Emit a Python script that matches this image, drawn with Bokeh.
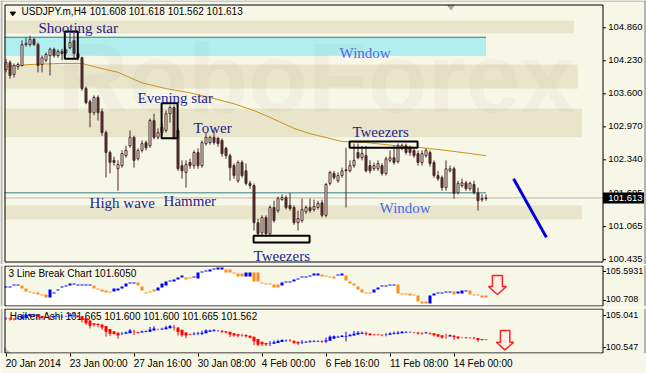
from bokeh.plotting import figure
from bokeh.layouts import column
from bokeh.models import Range1d, FixedTicker, LinearAxis
from bokeh.core.properties import value
from bokeh.embed import file_html
from bokeh.resources import INLINE

# ---------------- data (USDJPY.m, H4) ----------------
O = [104.06,104.20,103.97,104.12,104.14,104.54,104.54,104.64,104.54,104.16,
     104.24,104.33,104.45,104.33,104.41,104.39,104.48,104.62,104.37,104.29,
     103.70,103.45,103.24,103.53,103.26,102.86,102.48,102.33,102.17,102.23,
     102.42,102.61,102.77,102.36,102.52,102.67,102.61,103.09,102.77,102.86,
     102.90,103.22,103.34,102.90,102.23,102.10,102.29,102.23,102.48,102.23,
     102.65,102.67,102.77,102.75,102.71,102.56,102.42,102.23,101.94,102.29,
     102.13,101.89,101.85,101.14,100.95,101.24,100.93,101.43,101.37,101.58,
     101.62,101.47,101.43,101.14,101.18,101.35,101.43,101.39,101.43,101.52,
     101.28,101.89,102.08,101.94,102.04,102.15,102.13,102.23,102.48,102.38,
     102.42,102.23,102.17,102.17,102.23,102.08,102.33,102.38,102.31,102.56,
     102.61,102.57,102.52,102.46,102.29,102.42,102.48,102.29,102.04,102.00,
     101.81,102.13,102.17,101.71,101.85,101.90,101.79,101.87,101.71,101.58,
     101.60]
H = [104.27,104.24,104.18,104.20,104.62,104.67,104.71,104.67,104.58,104.33,
     104.39,104.48,104.48,104.45,104.46,104.46,104.77,104.77,104.39,104.31,
     103.74,103.49,103.57,103.57,103.32,102.90,102.52,102.40,102.33,102.52,
     102.61,102.90,102.80,102.56,102.71,102.71,103.13,103.22,102.94,103.05,
     103.28,103.38,103.38,102.94,102.33,102.33,102.36,102.52,102.56,102.71,
     102.86,102.80,102.90,102.78,102.75,102.59,102.46,102.27,102.33,102.33,
     102.27,101.94,101.89,101.22,101.28,101.28,101.47,101.56,101.64,101.68,
     101.66,101.71,101.47,101.37,101.60,101.47,101.60,101.58,101.56,101.58,
     101.90,102.13,102.13,102.10,102.19,102.57,102.33,102.65,102.65,102.61,
     102.61,102.33,102.29,102.33,102.27,102.40,102.52,102.61,102.65,102.65,
     102.65,102.61,102.56,102.52,102.52,102.56,102.52,102.33,102.13,102.04,
     102.33,102.23,102.21,101.94,101.98,101.94,101.92,101.94,101.81,101.68,
     101.68]
L = [104.01,103.89,103.91,104.06,104.12,104.50,104.50,104.52,104.01,104.01,
     104.20,103.95,104.29,104.29,104.24,104.35,104.45,104.27,104.24,103.66,
     103.40,102.96,103.19,103.09,102.80,102.00,102.08,102.23,101.75,102.19,
     102.38,102.57,102.19,102.33,102.48,102.52,102.57,102.73,102.73,102.82,
     102.86,103.05,102.73,102.13,101.98,101.81,102.17,102.17,102.17,102.19,
     102.61,102.63,102.63,102.59,102.40,102.36,101.94,101.98,101.90,102.00,
     101.85,101.79,100.99,100.89,100.89,100.87,100.89,101.14,101.33,101.56,
     101.39,101.37,101.10,100.99,101.14,101.31,101.33,101.35,101.39,101.24,
     101.24,101.85,101.96,101.90,102.00,101.43,102.10,102.19,102.35,102.33,
     102.10,102.08,102.13,102.13,102.04,102.04,102.29,102.25,102.27,102.52,
     102.44,102.42,102.38,102.23,102.23,102.38,102.21,102.00,101.94,101.75,
     101.75,102.10,101.60,101.68,101.81,101.75,101.75,101.68,101.37,101.54,
     101.56]
C = [104.20,103.95,104.14,104.16,104.54,104.56,104.64,104.54,104.14,104.29,
     104.35,104.45,104.33,104.41,104.37,104.43,104.58,104.37,104.29,103.70,
     103.43,103.24,103.53,103.24,102.86,102.48,102.29,102.29,102.25,102.46,
     102.52,102.77,102.33,102.52,102.65,102.57,103.09,102.77,102.86,102.96,
     103.22,103.34,102.77,102.17,102.13,102.25,102.23,102.48,102.23,102.67,
     102.77,102.77,102.67,102.65,102.46,102.42,102.19,102.04,102.29,102.04,
     101.89,101.85,101.14,100.93,101.24,100.93,101.43,101.18,101.60,101.62,
     101.43,101.41,101.14,101.22,101.39,101.43,101.37,101.45,101.51,101.28,
     101.87,102.10,102.00,102.04,102.13,102.13,102.23,102.33,102.38,102.46,
     102.13,102.13,102.23,102.27,102.08,102.36,102.38,102.29,102.61,102.61,
     102.48,102.48,102.42,102.29,102.46,102.52,102.27,102.04,101.98,101.81,
     102.17,102.17,101.70,101.89,101.90,101.79,101.89,101.71,101.56,101.60,
     101.613]

# moving average (sampled at bar indices)
ma_bar = [0, 6, 14, 19, 23, 28, 34, 40, 46, 52, 57, 62, 66, 72, 76, 84, 90, 100, 104, 110, 120]
ma_val = [104.12, 104.16, 104.18, 104.18, 104.10, 104.01, 103.81, 103.70, 103.62, 103.51, 103.41,
          103.28, 103.15, 102.94, 102.84, 102.69, 102.67, 102.59, 102.57, 102.52, 102.42]

# 3 Line Break chart bricks (top, bottom, direction 1=up/blue, 0=down/orange)
lb_hi = [103.07,103.07,103.40,103.40,103.23,102.73,102.22,102.05,102.05,101.72,
         101.72,102.56,102.05,102.56,103.07,103.23,103.57,103.57,103.40,103.40,
         103.40,103.40,103.23,102.73,102.56,102.39,102.22,102.73,102.73,103.07,
         103.57,103.74,103.74,103.74,103.07,102.05,102.22,102.56,102.90,103.57,
         103.91,104.08,104.25,104.58,104.92,104.58,104.58,104.75,105.42,105.59,
         105.76,105.93,106.10,106.27,106.27,105.93,105.93,105.42,105.26,105.26,
         105.42,105.42,105.42,105.42,103.74,103.57,103.57,103.40,103.40,103.74,
         103.91,103.91,104.25,104.41,104.75,104.75,104.92,105.26,105.26,105.09,
         104.92,104.75,104.75,105.09,105.26,104.92,103.91,103.57,103.07,102.56,
         102.05,102.05,102.56,102.90,103.23,103.23,103.40,103.40,103.40,101.89,
         101.89,101.89,101.72,101.55,100.54,100.54,101.55,101.89,102.05,102.05,
         102.22,102.22,102.22,102.22,102.39,102.39,102.39,101.72,101.72,101.55,
         101.55]
lb_lo = [102.90,102.90,103.23,103.23,102.73,102.22,102.05,101.89,101.72,101.55,
         101.21,101.21,101.89,102.39,102.90,103.07,103.23,103.40,103.23,103.23,
         103.23,103.23,102.73,102.56,102.22,102.05,102.05,102.22,102.39,102.73,
         103.07,103.57,103.57,103.23,102.39,101.89,102.05,102.22,102.39,102.90,
         103.23,103.91,103.91,104.25,104.58,104.25,104.41,104.58,104.41,105.42,
         105.59,105.59,105.93,105.93,105.93,105.42,105.42,105.26,104.75,104.75,
         104.75,104.75,103.91,103.91,103.57,103.40,103.40,102.90,102.90,103.23,
         103.74,103.74,103.91,104.25,104.58,104.58,104.75,104.92,104.92,104.75,
         104.75,104.58,104.41,104.92,104.92,104.08,103.57,103.23,102.56,102.05,
         101.89,101.89,102.05,102.56,103.07,103.07,103.23,103.23,101.89,101.72,
         101.72,101.55,101.55,100.54,100.20,100.20,100.20,101.55,101.89,101.89,
         102.05,102.05,101.72,101.89,101.89,102.22,101.72,101.55,101.55,101.21,
         101.21]
lb_up = [1,1,1,1,0,0,0,0,0,0, 0,1,1,1,1,1,1,1,1,1, 1,1,0,0,0,0,0,1,1,1,
         1,1,1,0,0,0,0,0,1,1, 1,1,1,1,1,0,0,1,1,1, 1,1,1,1,1,0,0,0,0,0,
         1,1,0,0,0,0,0,0,0,1, 1,1,1,1,1,1,1,1,1,0, 0,0,0,1,1,0,0,0,0,0,
         0,0,1,1,1,1,1,1,0,0, 0,0,0,0,0,0,1,1,1,1, 1,1,0,1,1,1,0,0,0,0,
         0]

# scale ticks / labels
price_ticks = [104.86, 104.23, 103.60, 102.97, 102.34, 101.695, 101.065, 100.435]
price_labels = ["104.860", "104.230", "103.600", "102.970", "102.340", "101.695", "101.065", "100.435"]
last_price_label = "101.613"
lb_ticks = [105.5931, 100.708]
lb_labels = ["105.5931", "100.708"]
ha_ticks = [104.485, 100.71]
ha_labels = ["105.041", "100.547"]
date_ticks = [0, 16, 32, 48, 64, 80, 96, 112]
date_labels = ["20 Jan 2014", "23 Jan 00:00", "27 Jan 16:00", "30 Jan 08:00",
               "4 Feb 00:00", "6 Feb 16:00", "11 Feb 08:00", "14 Feb 00:00"]

# chart annotations
pattern_text = ["Shooting star", "Window", "Evening star", "Tower", "Tweezers",
                "High wave", "Hammer", "Window", "Tweezers"]
pattern_x = [8.1, 83.4, 32.9, 46.9, 86.6, 20.9, 39.4, 93.4, 61.9]
pattern_y = [104.85, 104.37, 103.52, 102.94, 102.87, 101.52, 101.56, 101.43, 100.51]
pattern_col = ["#1E1E8C", "#4A6CE6", "#1E1E8C", "#1E1E8C", "#1E1E8C",
               "#1E1E8C", "#1E1E8C", "#4A6CE6", "#1E1E8C"]
box_left = [14.7, 38.9, 85.9, 61.9]
box_right = [17.95, 42.9, 102.9, 75.9]
box_top = [104.79, 103.42, 102.69, 100.89]
box_bottom = [104.27, 102.75, 102.57, 100.76]
band_top = [105.00, 104.16, 103.32, 101.47]
band_bottom = [104.75, 103.70, 102.77, 101.20]
band_end = [142, 143, 144, 144]

# ---------------- styling / geometry ----------------
BG = "#F7F7E7"
FONT = "Liberation Sans"
FS = "10px"
CANDLE = "#4D2B2B"
BLUE = "#0000FF"
ORANGE = "#FF8C1A"
n = len(C)
bars = list(range(n))

# all three frames span the full 646 px width (4 px per bar); scales drawn by hand
XR = Range1d(-1.375, -1.375 + 646 / 4)
EDGE = 149.25          # right border of the chart area (x = 602.5 px)
LEFT = -0.25           # left border of the chart area (x = 4.5 px)
WIN_EDGE = 159.75      # grey window edge at x = 644.5 px
WIN_LEFT = -1.125      # grey window edge at x = 1 px


def make_fig(h, y0, y1, top, bottom):
    p = figure(width=646, height=h, x_range=XR, y_range=Range1d(y0, y1),
               output_backend="svg", toolbar_location=None, x_axis_location=None,
               y_axis_location=None, min_border_left=0, min_border_right=0,
               min_border_top=top, min_border_bottom=bottom, background_fill_color=BG,
               border_fill_color=BG, outline_line_color=None)
    p.grid.visible = False
    return p


def draw_scale(p, y0, y1, frame_h, border_top_px, border_bot_px, ticks, labels, lbl_x, fs):
    per_px = (y1 - y0) / frame_h
    p.segment(x0=[WIN_LEFT, WIN_EDGE], x1=[WIN_LEFT, WIN_EDGE], y0=[y0, y0], y1=[y1, y1],
              line_color="#B4B4B0", line_width=2)
    p.quad(left=[LEFT], right=[EDGE], top=[y1 - border_top_px * per_px],
           bottom=[y0 + border_bot_px * per_px], fill_alpha=0, line_color="black", line_width=1)
    p.segment(x0=[EDGE] * len(ticks), x1=[EDGE + 0.75] * len(ticks), y0=ticks, y1=ticks,
              line_color="black", line_width=1)
    p.text(x=[lbl_x] * len(ticks), y=ticks, text=labels, text_font=value(FONT),
           text_font_size=fs, text_color="black", text_baseline="middle", y_offset=-1)
    return per_px


# ---------------- main panel ----------------
PX1 = 52.39                       # pixels per yen on the main chart
Y1_TOP = 105.305 + 4 / PX1        # frame starts at the very top of the page
Y1_BOT = Y1_TOP - 264 / PX1
p1 = make_fig(264, Y1_BOT, Y1_TOP, 0, 0)

p1.quad(left=[-0.375] * 4, right=band_end, top=band_top, bottom=band_bottom,
        fill_color="#E8E5CB", line_color=None)
p1.quad(left=[-0.375], right=[120], top=[104.68], bottom=[104.32],
        fill_color="#B0EEF0", line_color=None)
p1.text(x=[12.9], y=[102.86], text=["RoboForex"], text_font=value(FONT),
        text_font_size="98px", text_font_style="bold", text_color="#807860", text_alpha=0.05)
p1.segment(x0=[-0.375, -0.375], x1=[120, 120], y0=[104.68, 101.71], y1=[104.68, 101.71],
           line_color="#2E7F80", line_width=1)
p1.segment(x0=[-0.375], x1=[EDGE], y0=[C[-1]], y1=[C[-1]], line_color="#B8B8B8", line_width=1)
p1.line(ma_bar, ma_val, line_color="#C8941A", line_width=1)

up = [c >= o for o, c in zip(O, C)]
p1.segment(x0=bars, x1=bars, y0=L, y1=H, line_color=CANDLE, line_width=1)
p1.vbar(x=bars, width=0.5, top=[max(o, c) for o, c in zip(O, C)],
        bottom=[min(o, c) for o, c in zip(O, C)],
        fill_color=["#FCFCF4" if u else CANDLE for u in up], line_color=CANDLE, line_width=1)

p1.quad(left=box_left, right=box_right, top=box_top, bottom=box_bottom,
        fill_alpha=0, line_color="black", line_width=2)
p1.text(x=pattern_x, y=pattern_y, text=pattern_text, text_color=pattern_col,
        text_font=value("Liberation Serif"), text_font_size="15px", text_baseline="alphabetic")
p1.line([126.9, 135.1], [101.98, 100.86], line_color="#0000DD", line_width=3)

p1.patch([1.0, 2.4, 1.7], [105.16, 105.16, 105.09], color="black")
p1.patch([110.4, 112.1, 111.25], [105.29, 105.29, 105.20], color="#A8A8A8")
p1.text(x=[3.9, 20.95], y=[105.07, 105.07],
        text=["USDJPY.m,H4", "101.608 101.618 101.562 101.613"],
        text_font=value(FONT), text_font_size=FS, text_color="black")

pp1 = draw_scale(p1, Y1_BOT, Y1_TOP, 264, 4.5, 2.5, price_ticks, price_labels, 150.55, "9.5px")
p1.quad(left=[-1.375], right=[XR.end], top=[Y1_TOP], bottom=[Y1_TOP - 1 / PX1],
        fill_color="#A0A0A0", line_color=None)
p1.quad(left=[EDGE], right=[WIN_EDGE - 0.25], top=[C[-1] + 5.5 * pp1], bottom=[C[-1] - 5.5 * pp1],
        fill_color="black", line_color=None)
p1.text(x=[150.55], y=[C[-1]], text=[last_price_label], text_font=value(FONT),
        text_font_size="9.5px", text_color="white", text_baseline="middle")

# ---------------- 3 line break panel ----------------
p2 = make_fig(43, 99.697, 106.604, 1, 1)
p2.quad(left=[b - 0.5 for b in bars], right=[b + 0.5 for b in bars],
        top=lb_lo, bottom=[99.697] * n, fill_color="white", line_color=None)
p2.text(x=[0.6], y=[104.41], text=["3 Line Break Chart 101.6050"], text_font=value(FONT),
        text_font_size=FS, text_color="black")
p2.quad(left=[b - 0.375 for b in bars], right=[b + 0.375 for b in bars], top=lb_hi,
        bottom=lb_lo, fill_color=[BLUE if u else ORANGE for u in lb_up], line_color=None)
p2.patch([121.6, 124.1, 124.1, 125.1, 122.85, 120.6, 121.6],
         [104.92, 104.92, 103.07, 103.07, 101.72, 103.07, 103.07],
         fill_color="#FFF0E6", line_color="#FF2020", line_width=1.5)
draw_scale(p2, 99.697, 106.604, 41, 0.5, 0.5, lb_ticks, lb_labels, 149.95, "9px")

# ---------------- Heiken Ashi panel ----------------
ha_c = [(o + h + l + c) / 4 for o, h, l, c in zip(O, H, L, C)]
ha_o = [(O[0] + C[0]) / 2]
for i in range(1, n):
    ha_o.append((ha_o[-1] + ha_c[i - 1]) / 2)
ha_h = [max(h, a, b) for h, a, b in zip(H, ha_o, ha_c)]
ha_l = [min(l, a, b) for l, a, b in zip(L, ha_o, ha_c)]
ha_col = [BLUE if c >= o else "#FF0000" for o, c in zip(ha_o, ha_c)]

p3 = make_fig(66, 100.01, 105.31, 1, 20)
p3.text(x=[0.95], y=[103.72], text=["Heiken Ashi 101.665 101.600 101.600 101.665 101.562"],
        text_font=value(FONT), text_font_size=FS, text_color="black")
p3.segment(x0=bars, x1=bars, y0=ha_l, y1=ha_h, line_color=ha_col, line_width=1)
p3.quad(left=[b - 0.375 for b in bars], right=[b + 0.375 for b in bars],
        top=[max(a, b) for a, b in zip(ha_o, ha_c)], bottom=[min(a, b) for a, b in zip(ha_o, ha_c)],
        fill_color=ha_col, line_color=None)
p3.patch([123.6, 125.95, 125.95, 126.95, 124.7, 122.6, 123.6],
         [102.72, 102.72, 101.34, 101.34, 100.44, 101.34, 101.34],
         fill_color="#FFF0E6", line_color="#FF2020", line_width=1.5)
p3.patch([-0.375, -0.375, 1.2], [100.72, 100.01, 100.01], color="#C8C8C8")
draw_scale(p3, 100.01, 105.31, 45, 0.5, 0.5, ha_ticks, ha_labels, 149.95, "9px")


# time scale: tick marks on one axis, left-aligned labels on a second one
def style_axis(ax):
    ax.axis_line_color = None
    ax.major_tick_in = 0
    ax.minor_tick_line_color = None
    ax.major_label_text_font = FONT
    ax.major_label_text_font_size = FS
    ax.major_label_text_color = "black"


tick_ax = LinearAxis(ticker=FixedTicker(ticks=date_ticks),
                     major_label_overrides={t: "" for t in date_ticks})
style_axis(tick_ax)
tick_ax.major_label_text_font_size = "0px"
tick_ax.major_label_standoff = 0
tick_ax.major_tick_out = 3
p3.add_layout(tick_ax, "below")

ARIAL_W = {" ": 278, ":": 278, "J": 500, "F": 611, "a": 556, "n": 556, "e": 556, "b": 556}


def label_width_px(s):
    return sum(ARIAL_W.get(ch, 556) for ch in s) * 10 / 1000 * 0.92


label_pos = [t + (2 + label_width_px(s) / 2) / 4 for t, s in zip(date_ticks, date_labels)]
lab_ax = LinearAxis(ticker=FixedTicker(ticks=label_pos),
                    major_label_overrides=dict(zip(label_pos, date_labels)))
style_axis(lab_ax)
lab_ax.major_tick_out = 0
lab_ax.major_tick_line_color = None
lab_ax.major_label_standoff = 1
p3.add_layout(lab_ax, "below")

layout = column(p1, p2, p3, spacing=0)
open("out.html", "w").write(file_html(layout, INLINE))
